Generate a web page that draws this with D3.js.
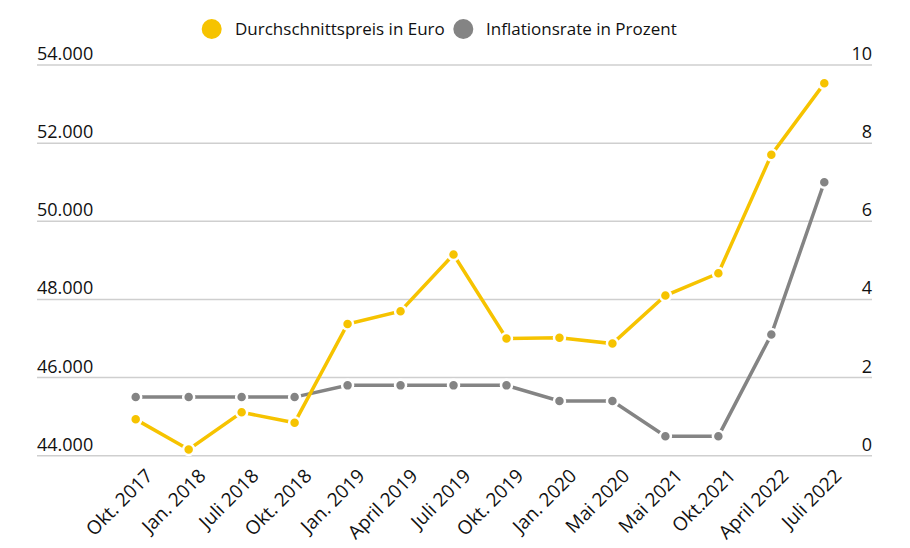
<!DOCTYPE html>
<html>
<head>
<meta charset="utf-8">
<script src="https://cdn.jsdelivr.net/npm/d3@7"></script>
<style>
  body { margin: 0; background: #fff; }
  svg text { font-family: "Open Sans", sans-serif; fill: #111; font-weight: 500; }
</style>
</head>
<body>
<div id="chart"></div>
<script>
// data
const categories = ["Okt. 2017", "Jan. 2018", "Juli 2018", "Okt. 2018", "Jan. 2019", "April 2019", "Juli 2019",
  "Okt. 2019", "Jan. 2020", "Mai 2020", "Mai 2021", "Okt.2021", "April 2022", "Juli 2022"];
const preis = [44930, 44160, 45110, 44845, 47370, 47700, 49150, 47000, 47020, 46870, 48100, 48670, 51700, 53530];
const inflation = [1.5, 1.5, 1.5, 1.5, 1.8, 1.8, 1.8, 1.8, 1.4, 1.4, 0.5, 0.5, 3.1, 7.0];
const leftTicks = [44000, 46000, 48000, 50000, 52000, 54000];
const rightTicks = [0, 2, 4, 6, 8, 10];
const seriesNames = ["Durchschnittspreis in Euro", "Inflationsrate in Prozent"];

const width = 910, height = 548;
const gridLeft = 37, gridRight = 872, plotTop = 65, plotBottom = 455.7;
const yellow = "#f6c300", grey = "#848484";

const svg = d3.select("#chart").append("svg")
  .attr("width", width).attr("height", height);

const x = d3.scalePoint().domain(categories).range([135.7, 824.3]);
const yL = d3.scaleLinear().domain([44000, 54000]).range([plotBottom, plotTop]);
const yR = d3.scaleLinear().domain([0, 10]).range([plotBottom, plotTop]);
const fmt = v => d3.format(",")(v).replace(/,/g, ".");

// gridlines
svg.append("g").selectAll("line").data(leftTicks).join("line")
  .attr("x1", gridLeft).attr("x2", gridRight)
  .attr("y1", d => yL(d)).attr("y2", d => yL(d))
  .attr("stroke", "#cfcfcf").attr("stroke-width", 1.5);

// left axis labels
svg.append("g").selectAll("text").data(leftTicks).join("text")
  .attr("x", gridLeft).attr("y", d => yL(d) - 5)
  .attr("font-size", 18).text(fmt);

// right axis labels
svg.append("g").selectAll("text").data(rightTicks).join("text")
  .attr("x", gridRight).attr("y", d => yR(d) - 5)
  .attr("text-anchor", "end")
  .attr("font-size", 18).text(d => d);

// x labels
svg.append("g").selectAll("text").data(categories).join("text")
  .attr("transform", d => `translate(${x(d) + 7},${plotBottom + 10}) rotate(-45)`)
  .attr("text-anchor", "end")
  .attr("dominant-baseline", "hanging")
  .attr("font-size", 19).text(d => d);

function drawSeries(values, yScale, color) {
  const line = d3.line().x((d, i) => x(categories[i])).y(d => yScale(d));
  svg.append("path").datum(values)
    .attr("d", line).attr("fill", "none")
    .attr("stroke", color).attr("stroke-width", 3.5);
  svg.append("g").selectAll("circle").data(values).join("circle")
    .attr("cx", (d, i) => x(categories[i])).attr("cy", d => yScale(d))
    .attr("r", 5.5).attr("fill", color)
    .attr("stroke", "#fff").attr("stroke-width", 2.5);
}
drawSeries(inflation, yR, grey);
drawSeries(preis, yL, yellow);

// legend
const legend = [
  { name: seriesNames[0], color: yellow, cx: 211.7, tx: 235 },
  { name: seriesNames[1], color: grey, cx: 463.3, tx: 486 }
];
const lg = svg.append("g");
lg.selectAll("circle").data(legend).join("circle")
  .attr("cx", d => d.cx).attr("cy", 29).attr("r", 10)
  .attr("fill", d => d.color);
lg.selectAll("text").data(legend).join("text")
  .attr("x", d => d.tx).attr("y", 29).attr("dy", "0.35em")
  .attr("font-size", 17).text(d => d.name);
</script>
</body>
</html>
